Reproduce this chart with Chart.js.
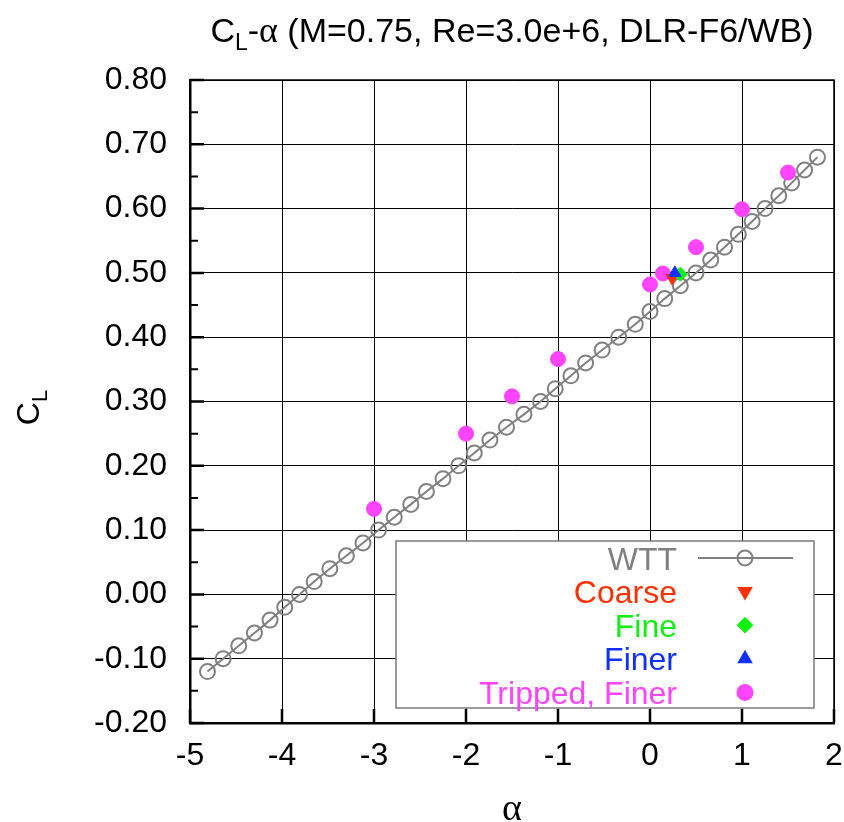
<!DOCTYPE html>
<html>
<head>
<meta charset="utf-8">
<title>CL-alpha, DLR-F6/WB</title>
<script src="https://cdn.jsdelivr.net/npm/chart.js@4.4.1/dist/chart.umd.min.js"></script>
<style>
  html, body { margin: 0; padding: 0; background: #fff; }
  #wrap { width: 844px; height: 822px; }
</style>
</head>
<body>
<div id="wrap"><canvas id="clChart" width="844" height="822"></canvas></div>
<script>
// Wind tunnel test polar
const wttAlpha = [-4.81, -4.64, -4.47, -4.30, -4.13, -3.97, -3.81, -3.65, -3.48, -3.30,
                  -3.12, -2.95, -2.78, -2.60, -2.43, -2.25, -2.08, -1.91, -1.74, -1.56,
                  -1.37, -1.19, -1.03, -0.86, -0.70, -0.52, -0.34, -0.16, 0.00, 0.16,
                  0.33, 0.50, 0.66, 0.81, 0.96, 1.11, 1.25, 1.40, 1.54, 1.68, 1.82];
const wttCL = [-0.12, -0.10, -0.08, -0.06, -0.04, -0.02, 0.00, 0.02, 0.04, 0.06,
               0.08, 0.10, 0.12, 0.14, 0.16, 0.18, 0.20, 0.22, 0.24, 0.26,
               0.28, 0.30, 0.32, 0.34, 0.36, 0.38, 0.40, 0.42, 0.44, 0.46,
               0.48, 0.50, 0.52, 0.54, 0.56, 0.58, 0.60, 0.62, 0.64, 0.66, 0.68];

// CFD grids
const coarseAlpha = [0.24];
const coarseCL = [0.492];
const fineAlpha = [0.33];
const fineCL = [0.498];
const finerAlpha = [0.27];
const finerCL = [0.500];
const trippedAlpha = [-3.0, -2.0, -1.5, -1.0, 0.0, 0.14, 0.5, 1.0, 1.5];
const trippedCL = [0.133, 0.250, 0.308, 0.366, 0.482, 0.499, 0.540, 0.599, 0.656];

// axis ticks
const xTickValues = [-5, -4, -3, -2, -1, 0, 1, 2];
const yTickValues = [-0.2, -0.1, 0.0, 0.1, 0.2, 0.3, 0.4, 0.5, 0.6, 0.7, 0.8];

const FONT = "'Liberation Sans', Arial, sans-serif";
const SERIF = "'Liberation Serif', 'Times New Roman', serif";

function pts(xs, ys) {
    return xs.map(function(x, i) { return { x: x, y: ys[i] }; });
}

// draws a run of text pieces (with sub-scripts) starting at x, returns width
function drawPieces(c, pieces, x, y, measureOnly) {
    let w = 0;
    pieces.forEach(function(p) {
        c.font = p.font;
        if (!measureOnly) c.fillText(p.text, x + w, y + (p.dy || 0));
        w += c.measureText(p.text).width;
    });
    return w;
}

// Plot title and y axis title
const titlesPlugin = {
    id: 'titles',
    afterDraw(chart) {
        const c = chart.ctx;
        c.save();
        c.fillStyle = '#000';
        c.textBaseline = 'alphabetic';

        const title = [
            { text: 'C', font: '34px ' + FONT },
            { text: 'L', font: '23px ' + FONT, dy: 8 },
            { text: '-', font: '34px ' + FONT },
            { text: 'α', font: '36px ' + SERIF },
            { text: ' (M=0.75, Re=3.0e+6, DLR-F6/WB)', font: '34px ' + FONT }
        ];
        const cx = (chart.chartArea.left + chart.chartArea.right) / 2;
        const tw = drawPieces(c, title, 0, 0, true);
        drawPieces(c, title, cx - tw / 2, 42);

        // C_L, rotated
        const ylab = [
            { text: 'C', font: '32px ' + FONT },
            { text: 'L', font: '22px ' + FONT, dy: 8 }
        ];
        const yw = drawPieces(c, ylab, 0, 0, true);
        c.translate(39, (chart.chartArea.top + chart.chartArea.bottom) / 2 + 6);
        c.rotate(-Math.PI / 2);
        drawPieces(c, ylab, -yw / 2, 0);
        c.restore();
    }
};

// Top/right frame and the inner tick marks
const framePlugin = {
    id: 'frame',
    afterDraw(chart) {
        const c = chart.ctx;
        const a = chart.chartArea;
        const xs = chart.scales.x, ys = chart.scales.y;
        c.save();
        c.strokeStyle = '#000';
        c.lineWidth = 1.5;
        c.beginPath();
        c.moveTo(a.left, a.top);
        c.lineTo(a.right, a.top);
        c.lineTo(a.right, a.bottom);
        c.stroke();

        c.lineWidth = 2.5;
        c.beginPath();
        yTickValues.forEach(function(v) {
            const py = ys.getPixelForValue(v);
            c.moveTo(a.left, py);
            c.lineTo(a.left + 14, py);
        });
        xTickValues.forEach(function(v) {
            const px = xs.getPixelForValue(v);
            c.moveTo(px, a.bottom);
            c.lineTo(px, a.bottom - 14);
        });
        c.stroke();

        // minor ticks halfway between the labelled ones
        c.lineWidth = 2;
        c.beginPath();
        for (let i = 0; i < yTickValues.length - 1; i++) {
            const py = ys.getPixelForValue((yTickValues[i] + yTickValues[i + 1]) / 2);
            c.moveTo(a.left, py);
            c.lineTo(a.left + 8, py);
        }
        c.stroke();
        c.restore();
    }
};

// Boxed legend with right-aligned labels and the symbol on the right
const legendPlugin = {
    id: 'boxLegend',
    afterDraw(chart) {
        const c = chart.ctx;
        const box = { left: 396, top: 541, right: 814, bottom: 708 };
        const textRight = 677, symX = 745, rowY0 = 558, rowStep = 33.6;
        c.save();
        c.fillStyle = '#fff';
        c.fillRect(box.left, box.top, box.right - box.left, box.bottom - box.top);
        c.strokeStyle = '#7a7a7a';
        c.lineWidth = 1.5;
        c.strokeRect(box.left, box.top, box.right - box.left, box.bottom - box.top);

        c.font = '32px ' + FONT;
        c.textAlign = 'right';
        c.textBaseline = 'alphabetic';
        chart.data.datasets.forEach(function(ds, i) {
            const y = rowY0 + i * rowStep;
            c.fillStyle = ds.legendColor;
            c.fillText(ds.label, textRight, y + 11.5);
            if (ds.showLine) {
                c.strokeStyle = ds.borderColor;
                c.lineWidth = ds.borderWidth;
                c.beginPath();
                c.moveTo(698, y);
                c.lineTo(793, y);
                c.stroke();
            }
            c.fillStyle = ds.pointBackgroundColor;
            c.strokeStyle = ds.pointBorderColor;
            Chart.helpers.drawPoint(c, {
                pointStyle: ds.pointStyle,
                rotation: ds.pointRotation || 0,
                radius: ds.pointRadius,
                borderWidth: ds.pointBorderWidth
            }, symX, y);
        });
        c.restore();
    }
};

const canvas = document.getElementById('clChart');

new Chart(canvas, {
    type: 'scatter',
    data: {
        datasets: [
            {
                label: 'WTT',
                data: pts(wttAlpha, wttCL),
                showLine: true,
                borderColor: '#808080',
                borderWidth: 2,
                pointStyle: 'circle',
                pointRadius: 7.5,
                pointBorderWidth: 2,
                pointBorderColor: '#808080',
                pointBackgroundColor: 'rgba(255,255,255,0)',
                legendColor: '#808080',
                order: 4
            },
            {
                label: 'Coarse',
                data: pts(coarseAlpha, coarseCL),
                pointStyle: 'triangle',
                pointRotation: 180,
                pointRadius: 7,
                pointBorderWidth: 1,
                pointBorderColor: '#ff3000',
                pointBackgroundColor: '#ff3000',
                legendColor: '#ff3000',
                order: 2
            },
            {
                label: 'Fine',
                data: pts(fineAlpha, fineCL),
                pointStyle: 'rectRot',
                pointRadius: 7,
                pointBorderWidth: 1,
                pointBorderColor: '#10f010',
                pointBackgroundColor: '#10f010',
                legendColor: '#10f010',
                order: 1
            },
            {
                label: 'Finer',
                data: pts(finerAlpha, finerCL),
                pointStyle: 'triangle',
                pointRadius: 7,
                pointBorderWidth: 1,
                pointBorderColor: '#1030ff',
                pointBackgroundColor: '#1030ff',
                legendColor: '#1030ff',
                order: 0
            },
            {
                label: 'Tripped, Finer',
                data: pts(trippedAlpha, trippedCL),
                pointStyle: 'circle',
                pointRadius: 7.5,
                pointBorderWidth: 1,
                pointBorderColor: '#ff44ff',
                pointBackgroundColor: '#ff44ff',
                legendColor: '#ff44ff',
                order: 3
            }
        ]
    },
    options: {
        responsive: false,
        animation: false,
        devicePixelRatio: 1,
        layout: { padding: { top: 80, right: 10, left: 0, bottom: 0 } },
        plugins: {
            legend: { display: false },
            tooltip: { enabled: false }
        },
        scales: {
            x: {
                type: 'linear',
                min: -5,
                max: 2,
                afterBuildTicks: function(axis) {
                    axis.ticks = xTickValues.map(function(v) { return { value: v }; });
                },
                afterFit: function(axis) {
                    axis.height = 99;
                    // edge labels may hang past the plot frame
                    axis.paddingLeft = 0;
                    axis.paddingRight = 0;
                },
                ticks: {
                    color: '#000',
                    font: { family: FONT, size: 32 },
                    padding: 14,
                    maxRotation: 0,
                    callback: function(v) { return String(v); }
                },
                grid: { color: '#000', lineWidth: 1, drawTicks: false },
                border: { display: true, color: '#000', width: 2.5 },
                title: {
                    display: true,
                    text: 'α',
                    color: '#000',
                    font: { family: SERIF, size: 38, lineHeight: 1 },
                    padding: { top: 0, bottom: -7 }
                }
            },
            y: {
                type: 'linear',
                min: -0.2,
                max: 0.8,
                afterBuildTicks: function(axis) {
                    axis.ticks = yTickValues.map(function(v) { return { value: v }; });
                },
                afterFit: function(axis) { axis.width = 190; },
                ticks: {
                    color: '#000',
                    font: { family: FONT, size: 32 },
                    padding: 23,
                    callback: function(v) { return Number(v).toFixed(2); }
                },
                grid: { color: '#000', lineWidth: 1, drawTicks: false },
                border: { display: true, color: '#000', width: 2.5 }
            }
        }
    },
    plugins: [framePlugin, legendPlugin, titlesPlugin]
});
</script>
</body>
</html>
